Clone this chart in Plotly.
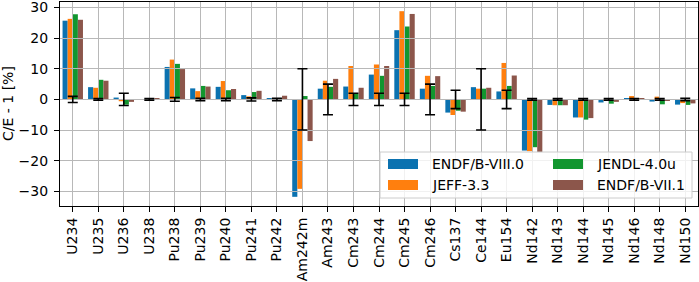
import plotly.graph_objects as go

# ---------------- data ----------------
categories = ["U234", "U235", "U236", "U238", "Pu238", "Pu239", "Pu240", "Pu241", "Pu242",
              "Am242m", "Am243", "Cm243", "Cm244", "Cm245", "Cm246", "Cs137", "Ce144", "Eu154",
              "Nd142", "Nd143", "Nd144", "Nd145", "Nd146", "Nd148", "Nd150"]

series_names = ["ENDF/B-VIII.0", "JEFF-3.3", "JENDL-4.0u", "ENDF/B-VII.1"]

endf_b_viii0 = [25.7, 4.0, 0.6, 0.1, 10.6, 3.6, 4.1, 1.4, 0.2, -31.8, 3.5, 4.2, 8.1, 22.6, 3.5,
                -4.3, 4.0, 2.6, -16.7, -1.8, -5.9, -1.0, 0.2, -0.7, -1.7]
jeff_33 = [26.3, 3.8, -0.6, 0.1, 13.0, 2.7, 6.0, 1.0, 0.2, -29.2, 6.1, 10.9, 11.4, 28.8, 7.7,
           -5.1, 3.5, 11.9, -16.9, -1.9, -5.9, -0.5, 1.1, 0.9, -1.2]
jendl_40u = [27.8, 6.4, -1.7, 0.1, 11.6, 4.4, 3.0, 2.4, 0.2, 1.1, 4.1, 1.8, 7.7, 23.8, 4.4,
             -3.7, 3.5, 4.4, -15.6, -1.9, -6.6, -1.4, 0.3, -1.6, -1.8]
endf_b_vii1 = [26.0, 6.1, -0.8, 0.2, 9.9, 4.2, 3.4, 2.8, 1.2, -13.6, 6.7, 3.8, 10.9, 27.9, 7.6,
               -4.0, 3.8, 7.8, -17.2, -1.9, -6.1, -0.8, 0.4, -0.5, -1.3]

# experimental reference (C/E - 1 = 0) and its uncertainty [%]
exp_center = [0.0] * len(categories)
exp_unc = [1.0, 0.3, 2.0, 0.3, 0.6, 0.4, 0.4, 0.5, 0.4, 10.0, 5.0, 2.0, 2.0, 2.0, 5.0,
           3.0, 10.0, 3.0, 0.3, 0.3, 0.3, 0.3, 0.3, 0.3, 0.4]

y_ticks = [-30, -20, -10, 0, 10, 20, 30]
y_tick_labels = ["\u221230", "\u221220", "\u221210", "0", "10", "20", "30"]
y_title = "C/E - 1 [%]"

series_values = [endf_b_viii0, jeff_33, jendl_40u, endf_b_vii1]
colors = ["#0b72b0", "#ff7f0e", "#12962f", "#8c564b"]

# ---------------- layout constants ----------------
W, H = 699, 282
ML, MR, MT, MB = 60, 1, 2, 76
PW, PH = W - ML - MR, H - MT - MB
FONT = "DejaVu Sans"
x_range = [-0.5, len(categories) - 0.5]
y_range = [-34.8, 31.8]


def px_x(px):
    return (px - ML) / PW


def px_y(py):
    return (H - MB - py) / PH


fig = go.Figure()
for name, vals, color in zip(series_names, series_values, colors):
    fig.add_trace(go.Bar(x=categories, y=vals, name=name,
                         marker=dict(color=color, line=dict(width=0)),
                         showlegend=False, xaxis="x", yaxis="y"))

fig.add_trace(go.Scatter(x=categories, y=exp_center, mode="markers",
                         marker=dict(size=1, color="rgba(0,0,0,0)"),
                         error_y=dict(type="data", array=exp_unc, visible=True,
                                      color="black", thickness=1.6, width=5),
                         showlegend=False, hoverinfo="skip",
                         xaxis="x2", yaxis="y2"))

tickfont = dict(family=FONT, size=14, color="black")

fig.update_layout(
    width=W, height=H, autosize=False,
    margin=dict(l=ML, r=MR, t=MT, b=MB, pad=0),
    paper_bgcolor="white", plot_bgcolor="rgba(0,0,0,0)",
    barmode="group", bargap=0.2, bargroupgap=0,
    font=dict(family=FONT, size=14, color="black"),
    xaxis=dict(type="category", categoryorder="array", categoryarray=categories,
               range=x_range, tickangle=-90, ticks="outside", ticklen=5, tickwidth=1.2,
               tickcolor="black", showline=True, linecolor="black", linewidth=1.2,
               mirror=True, showgrid=False, zeroline=False, tickfont=tickfont,
               automargin=False, domain=[0, 1], ticklabeloverflow="allow"),
    yaxis=dict(range=y_range, tickvals=y_ticks, ticktext=y_tick_labels, ticks="outside",
               ticklen=5, tickwidth=1.2, tickcolor="black", showline=True,
               linecolor="black", linewidth=1.2, mirror=True, showgrid=False,
               zeroline=False, tickfont=tickfont, automargin=False, domain=[0, 1],
               ticklabelstandoff=3, ticklabeloverflow="allow"),
    xaxis2=dict(type="category", categoryorder="array", categoryarray=categories,
                range=x_range, anchor="y2", domain=[0, 1], showgrid=True,
                gridcolor="#b8b8b8", gridwidth=1.3, showticklabels=False, ticks="",
                showline=False, zeroline=False, automargin=False),
    yaxis2=dict(range=y_range, tickvals=y_ticks, anchor="x2", domain=[0, 1],
                showgrid=True, gridcolor="#b8b8b8", gridwidth=1.3,
                showticklabels=False, ticks="", showline=False, zeroline=False,
                automargin=False),
)

# y-axis title
fig.add_annotation(text=y_title, xref="paper", yref="paper", x=px_x(8), y=0.5,
                   textangle=-90, showarrow=False, xanchor="center", yanchor="middle",
                   font=dict(family=FONT, size=14, color="black"))

# legend (matplotlib-style, two columns)
shapes = [dict(type="rect", xref="paper", yref="paper", layer="above",
               x0=px_x(380), x1=px_x(692), y0=px_y(198), y1=px_y(152),
               fillcolor="rgba(255,255,255,0.8)", line=dict(color="#cccccc", width=1))]
sw_x = [388, 388, 553, 553]
tx_x = [430, 430, 595, 595]
row_y = [164, 185, 164, 185]
for i, (name, color) in enumerate(zip(series_names, colors)):
    shapes.append(dict(type="rect", xref="paper", yref="paper", layer="above",
                       x0=px_x(sw_x[i]), x1=px_x(sw_x[i] + 30),
                       y0=px_y(row_y[i] + 5), y1=px_y(row_y[i] - 5),
                       fillcolor=color, line=dict(width=0)))
    fig.add_annotation(text=name, xref="paper", yref="paper",
                       x=px_x(tx_x[i]), y=px_y(row_y[i]), showarrow=False,
                       xanchor="left", yanchor="middle",
                       font=dict(family=FONT, size=14, color="black"))
fig.update_layout(shapes=shapes)

fig.write_html("out.html", config={"displayModeBar": False},
               post_script="document.body.style.margin='0';document.body.style.padding='0';")
